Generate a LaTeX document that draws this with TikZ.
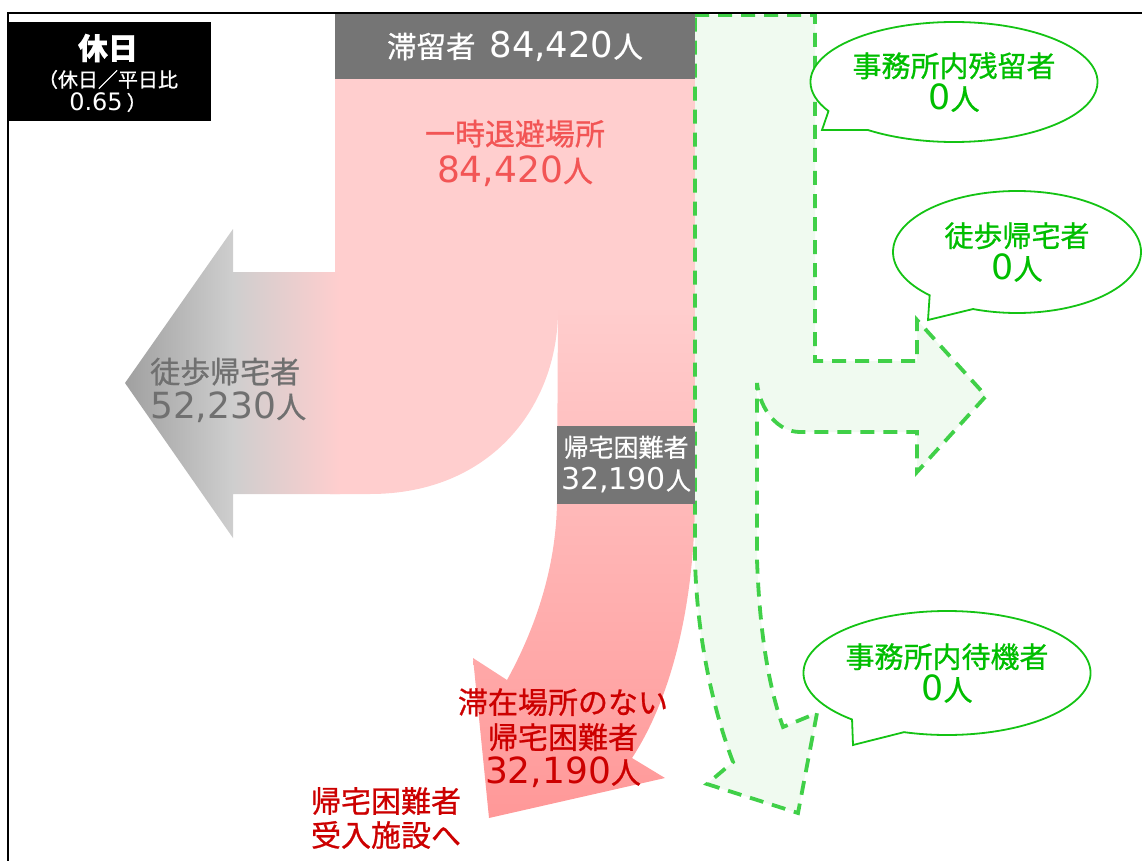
\documentclass[tikz,border=0pt]{standalone}
\usepackage{fontspec}
\setmainfont{Noto Sans CJK JP}[RawFeature={embolden=0.8}]
\newfontfamily\dv{DejaVu Sans}[Scale=1.2]
\usetikzlibrary{shapes.callouts,shapes.geometric}
\definecolor{hdgray}{RGB}{117,117,117}
\definecolor{pinkL}{RGB}{255,206,206}
\definecolor{pinkD}{RGB}{255,152,152}
\definecolor{grayTip}{RGB}{160,160,160}
\definecolor{grayMid}{RGB}{206,206,206}
\definecolor{redA}{RGB}{242,85,85}
\definecolor{darkred}{RGB}{204,0,0}
\definecolor{txtgray}{RGB}{112,112,112}
\definecolor{txtgreen}{RGB}{0,190,0}
\definecolor{bubgreen}{RGB}{20,195,20}
\definecolor{dashgreen}{RGB}{64,208,72}
\definecolor{grfill}{RGB}{240,250,240}
\begin{document}
\begin{tikzpicture}[x=1pt,y=-1pt,
  lbl/.style={align=center, inner sep=0pt},
  bubble/.style={ellipse callout, draw=bubgreen, line width=1.8pt, fill=white,
    text=txtgreen, align=center, callout pointer arc=24, inner sep=0pt,
    font=\fontsize{29}{33}\selectfont},
  graybox/.style={fill=hdgray, inner sep=0pt, text=white, align=center},
  greenflow/.style={draw=dashgreen, fill=grfill, line width=3.8pt, dash pattern=on 14pt off 9pt}
]
\useasboundingbox (0,0) rectangle (1142,861);

% red downward arrow
\shade[top color=pinkL, bottom color=pinkD]
  (558,300) -- (695,300) -- (695,500) .. controls (694,610) and (670,700) .. (632,758)
  -- (665,778) -- (489,818) -- (473,658) -- (507,680)
  .. controls (540,620) and (556,560) .. (557,503) -- cycle;

% pink body
\fill[pinkL] (335,79) -- (695,79) -- (695,310) -- (558,310)
  .. controls (558,405) and (492,494) .. (370,494) -- (330,494) -- (330,272) -- (335,272) -- cycle;

% left arrow (gradient)
\shade[left color=grayTip, right color=pinkL, middle color=grayMid]
  (340,272) -- (233,272) -- (233,229) -- (125,383) -- (233,538) -- (233,494) -- (340,494) -- cycle;

% green dashed flow
\path[greenflow] (695,15) -- (815,15) -- (815,361) -- (917,361) -- (917,320) -- (986,396)
  -- (917,472) -- (917,432) -- (800,432) .. controls (778,432) and (760,410) .. (757,383)
  -- (757,560) .. controls (760,640) and (770,690) .. (783,727) -- (817,713) -- (798,813)
  -- (707,784) -- (733,762) .. controls (714,712) and (697,640) .. (695,560) -- cycle;

% header
\node[graybox, minimum width=360, minimum height=65, font=\fontsize{29.5}{33}\selectfont]
  (hdr) at (515,46.5) {滞留者\hspace{14pt}{\dv 84,420}人};

% gray box
\node[graybox, minimum width=138, minimum height=78, font=\fontsize{25}{33}\selectfont]
  (hk) at (626,464.5) {帰宅困難者\\{\dv 32,190}人};

% labels
\node[lbl, text=redA, font=\fontsize{30}{37}\selectfont] (sh) at (515,153) {一時退避場所\\{\dv 84,420}人};
\node[lbl, anchor=west, align=left, text=txtgray, font=\fontsize{30}{35}\selectfont] (wk) at (150,390) {徒歩帰宅者\\{\dv 52,230}人};
\node[lbl, text=darkred, font=\fontsize{30}{35}\selectfont] (ns) at (563,738) {滞在場所のない\\帰宅困難者\\{\dv 32,190}人};
\node[lbl, text=darkred, font=\fontsize{30}{34}\selectfont] (fac) at (386,818) {帰宅困難者\\受入施設へ};

% black box
\node[fill=black, minimum width=203, minimum height=99, inner sep=0pt] (hb) at (109.5,71.5) {};
\node[lbl, text=white, font=\fontsize{30}{32}\selectfont\bfseries] (hbt) at (108,48) {休日};
\node[lbl, text=white, font=\fontsize{20}{23}\selectfont] (hbs) at (108,91) {（休日／平日比\\{\dv 0.65}\hspace{4pt}）};

% callouts
\node[bubble, minimum width=258, minimum height=120, callout absolute pointer={(822,130)}] (b1) at (954,82) {事務所内残留者\\{\dv 0}人};
\node[bubble, minimum width=248, minimum height=122, callout absolute pointer={(928,320)}] (b2) at (1017,252) {徒歩帰宅者\\{\dv 0}人};
\node[bubble, minimum width=260, minimum height=124, callout absolute pointer={(853,745)}] (b3) at (947,673) {事務所内待機者\\{\dv 0}人};

% frame
\draw[line width=2.8pt] (8,861) -- (8,13) -- (1142,13);
\end{tikzpicture}
\end{document}
